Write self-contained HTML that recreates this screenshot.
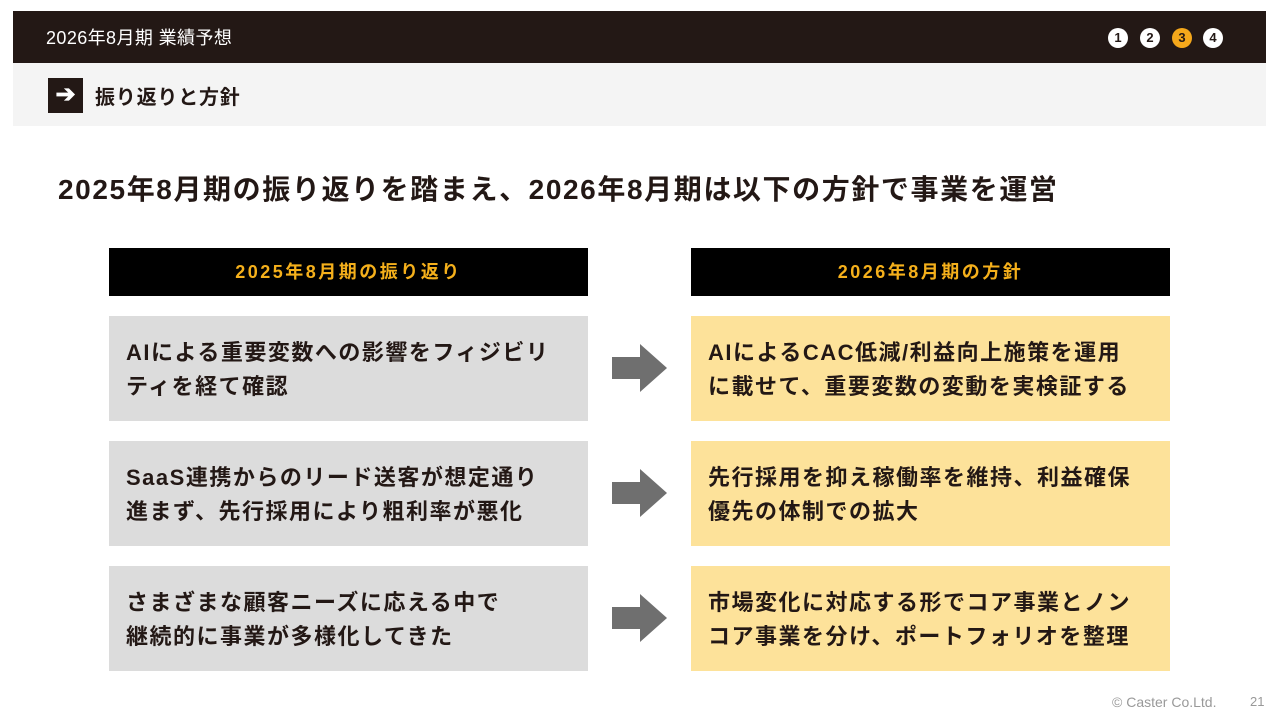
<!DOCTYPE html>
<html><head><meta charset="utf-8"><style>
*{margin:0;padding:0;box-sizing:border-box}
body{width:1280px;height:720px;background:#fff;position:relative;overflow:hidden;font-family:"Liberation Sans","Noto Sans CJK JP",sans-serif}
.a{position:absolute}
.hb{left:13px;top:11px;width:1253px;height:52px;background:#231815;color:#fff;font-size:18px;letter-spacing:0.4px;padding:13px 0 0 33px}
.st{left:13px;top:63px;width:1253px;height:63px;background:#f4f4f4}
.ic{left:48px;top:78px;width:35px;height:35px;background:#231815;color:#fff;font-size:24px;font-weight:bold;text-align:center;line-height:34px}
.dot{top:28px;width:20px;height:20px;border-radius:50%;background:#fff;color:#231815;font-size:13px;font-weight:bold;text-align:center;line-height:20px}
.hd{top:248px;width:479px;height:48px;background:#000;color:#f5b01b;font-size:18px;letter-spacing:2.5px;font-weight:bold;text-align:center;line-height:48px}
.bx{width:479px;height:105px;font-size:22px;letter-spacing:1.5px;font-weight:bold;color:#231815;padding:20px 0 0 17px;line-height:34px}
.g{left:109px;background:#dcdcdc}
.y{left:691px;background:#fde29a}
</style></head><body>
<div class="a hb">2026年8月期 業績予想</div>
<div class="a dot" style="left:1108px">1</div>
<div class="a dot" style="left:1140px">2</div>
<div class="a dot" style="left:1172px;background:#f5a81b">3</div>
<div class="a dot" style="left:1203px">4</div>
<div class="a st"></div>
<div class="a ic">➔</div>
<div class="a" style="left:95px;top:81px;font-size:20px;letter-spacing:0.8px;font-weight:bold;color:#231815">振り返りと方針</div>
<div class="a" style="left:58px;top:168px;font-size:28px;font-weight:bold;color:#231815;letter-spacing:1.6px;white-space:nowrap">2025年8月期の振り返りを踏まえ、2026年8月期は以下の方針で事業を運営</div>
<div class="a hd" style="left:109px">2025年8月期の振り返り</div>
<div class="a hd" style="left:691px">2026年8月期の方針</div>
<div class="a bx g" style="top:316px">AIによる重要変数への影響をフィジビリ<br>ティを経て確認</div>
<div class="a bx g" style="top:441px">SaaS連携からのリード送客が想定通り<br>進まず、先行採用により粗利率が悪化</div>
<div class="a bx g" style="top:566px">さまざまな顧客ニーズに応える中で<br>継続的に事業が多様化してきた</div>
<div class="a bx y" style="top:316px">AIによるCAC低減/利益向上施策を運用<br>に載せて、重要変数の変動を実検証する</div>
<div class="a bx y" style="top:441px">先行採用を抑え稼働率を維持、利益確保<br>優先の体制での拡大</div>
<div class="a bx y" style="top:566px">市場変化に対応する形でコア事業とノン<br>コア事業を分け、ポートフォリオを整理</div>
<svg class="a" style="left:0;top:0" width="1280" height="720">
<g fill="#6f6f6f">
<polygon points="612,357 640,357 640,344 667,368 640,392 640,379 612,379"/>
<polygon points="612,482 640,482 640,469 667,493 640,517 640,504 612,504"/>
<polygon points="612,607 640,607 640,594 667,618 640,642 640,629 612,629"/>
</g></svg>
<div class="a" style="left:1112px;top:694px;font-size:14px;color:#999">© Caster Co.Ltd.</div>
<div class="a" style="left:1250px;top:694px;font-size:13px;color:#999">21</div>
</body></html>
